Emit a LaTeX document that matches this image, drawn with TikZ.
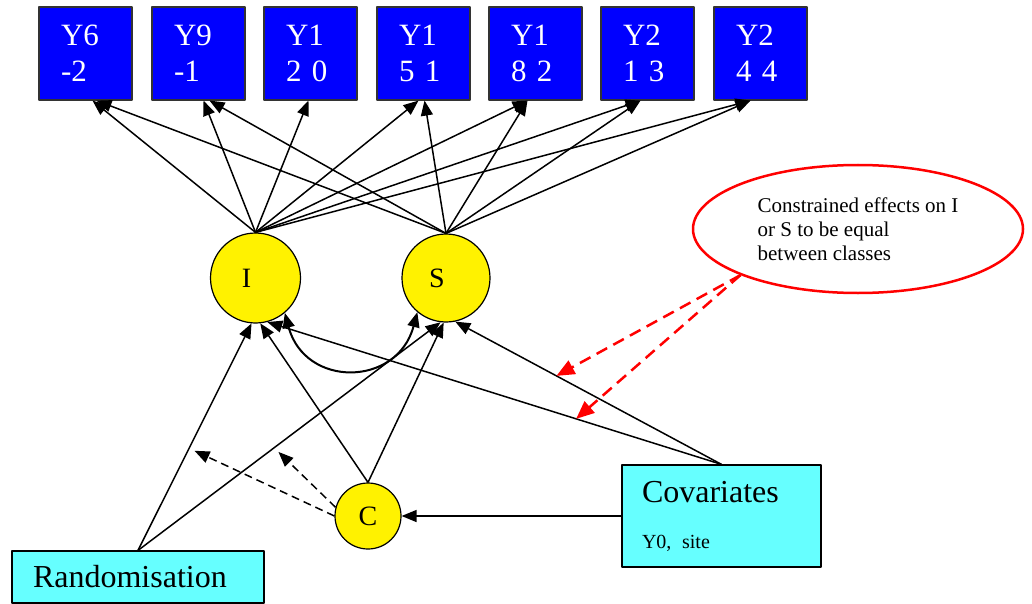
\documentclass[tikz,border=0pt]{standalone}
\usepackage{fontspec}
\setmainfont{Liberation Serif}
\usepackage{tikz}
\usetikzlibrary{arrows.meta,shapes.geometric}
\definecolor{covcyan}{RGB}{102,255,255}

\begin{document}
\begin{tikzpicture}[x=1pt, y=1pt, line join = round,
    obs/.style={draw=black!80, line width=1.2pt, fill=blue, text=white, minimum width=93pt, minimum height=93pt,
                inner xsep=22pt, text width=49pt, align=left, font=\fontsize{31}{36}\selectfont},
    lat/.style={circle, draw, line width=1.2pt, fill=yellow, inner sep=0pt, font=\fontsize{28}{30}\selectfont},
    ext/.style={draw, line width=1.2pt, fill=covcyan, align=left, font=\fontsize{32}{38}\selectfont},
    note/.style={ellipse, draw=red, line width=2.5pt, minimum width=330pt, minimum height=128pt,
                 align=left, font=\fontsize{21}{24}\selectfont},
    arr/.style={line width=1.5pt, -{Triangle[length=15pt,width=12pt]}},
    modarr/.style={arr, dash pattern=on 8pt off 5pt, shorten >=6pt},
    redarr/.style={draw=red, line width=2.5pt, dash pattern=on 12pt off 7pt, -{Triangle[length=18pt,width=15pt]}}]

    \useasboundingbox (0,0) rectangle (1032,-604);

    % measurements
    \node[obs] (y1) at (85.5,-53.5) {Y6\\-2};
    \node[obs] (y2) at (198.5,-53.5) {Y9\\-1};
    \node[obs] (y3) at (310.5,-53.5) {Y1\\2 0};
    \node[obs] (y4) at (423.5,-53.5) {Y1\\5 1};
    \node[obs] (y5) at (535.5,-53.5) {Y1\\8 2};
    \node[obs] (y6) at (647.5,-53.5) {Y2\\1 3};
    \node[obs] (y7) at (760.5,-53.5) {Y2\\4 4};

    % growth factors and class
    \node[lat, minimum size=90pt] (I) at (255.5,-278) {I\kern18pt};
    \node[lat, minimum size=88pt] (S) at (446,-278) {S\kern18pt};
    \node[lat, minimum size=66pt] (C) at (368,-516) {C};

    % predictors
    \node[ext, minimum width=252pt, minimum height=52pt, text width=210pt, inner xsep=21pt] (rand) at (138,-577) {Randomisation};
    \node[ext, minimum width=199pt, minimum height=102pt, text width=159pt, inner xsep=20pt] (cov) at (721.5,-516)
        {Covariates\\[8pt]{\fontsize{20}{24}\selectfont Y0,\ site}};

    \node[note] (note) at (858,-229) {Constrained effects on I\\or S to be equal\\between classes};

    % loadings
    \draw[arr] (I.north) -- ([xshift=7pt]y1.south);
    \draw[arr] (I.north) -- ([xshift=5pt]y2.south);
    \draw[arr] (I.north) -- ([xshift=-2pt]y3.south);
    \draw[arr] (I.north) -- ([xshift=-5pt]y4.south);
    \draw[arr] (I.north) -- ([xshift=-8pt]y5.south);
    \draw[arr] (I.north) -- ([xshift=-7pt]y6.south);
    \draw[arr] (I.north) -- ([xshift=-10pt]y7.south);
    \draw[arr] (S.north) -- ([xshift=11pt]y1.south);
    \draw[arr] (S.north) -- ([xshift=11pt]y2.south);
    \draw[arr] (S.north) -- ([xshift=1pt]y4.south);
    \draw[arr] (S.north) -- ([xshift=-8pt]y5.south);
    \draw[arr] (S.north) -- ([xshift=-7pt]y6.south);
    \draw[arr] (S.north) -- ([xshift=-10pt]y7.south);

    % regressions
    \draw[arr] (rand.north) -- (I.-95);
    \draw[arr] (rand.north) -- (S.-97);
    \draw[arr] (C.north) -- (I.-84);
    \draw[arr] (C.north) -- (S.-93);
    \draw[arr] (cov.north) -- (I.-75);
    \draw[arr] (cov.north) -- (S.-78);
    \draw[arr] (cov.west) -- (C.east);
    \draw[line width=2pt, {Triangle[length=15pt,width=12pt]}-{Triangle[length=15pt,width=12pt]}]
        (I.-50) to[out=-75, in=-105, looseness=1.5] (S.-130);

    % class-varying effects
    \path (rand.north) -- (I.-95) coordinate[pos=0.45] (ri);
    \path (rand.north) -- (S.-97) coordinate[pos=0.45] (rs);
    \draw[modarr] (C.west) -- (ri);
    \draw[modarr] (C.165) -- (rs);

    \path (cov.north) -- (S.-78) coordinate[pos=0.62] (cs);
    \path (cov.north) -- (I.-75) coordinate[pos=0.32] (ci);
    \draw[redarr] (note.south west) -- (cs);
    \draw[redarr] (note.south west) -- (ci);

\end{tikzpicture}
\end{document}
